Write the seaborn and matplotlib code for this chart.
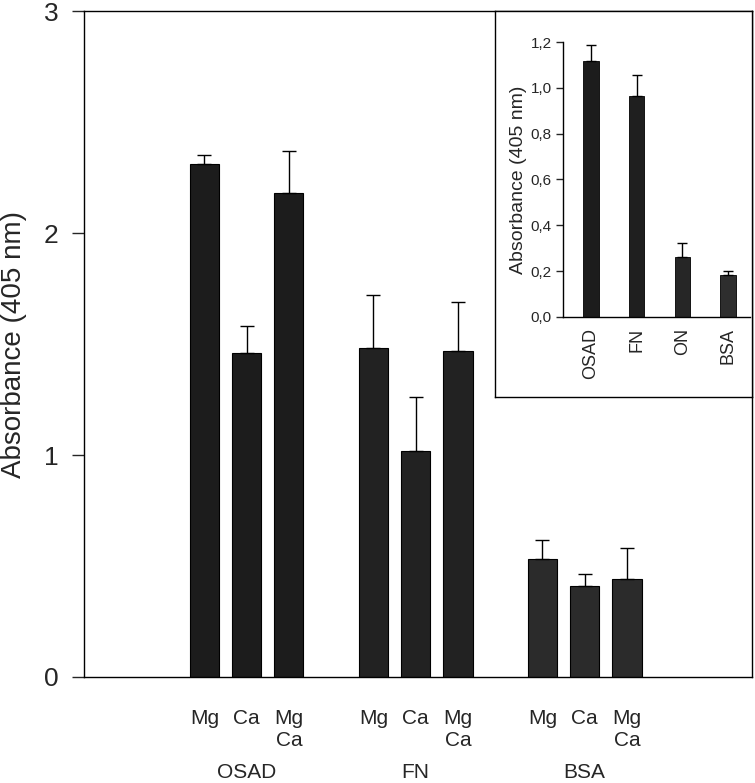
import matplotlib
matplotlib.use("Agg")
import matplotlib.pyplot as plt
import numpy as np
import pandas as pd
import seaborn as sns

# main panel data
proteins = ["OSAD", "FN", "BSA"]
cations = ["Mg", "Ca", "Mg\nCa"]
osad_vals = [2.31, 1.46, 2.18]
osad_err = [0.04, 0.12, 0.19]
fn_vals = [1.48, 1.02, 1.47]
fn_err = [0.24, 0.24, 0.22]
bsa_vals = [0.53, 0.41, 0.44]
bsa_err = [0.085, 0.055, 0.14]

# inset data
inset_labels = ["OSAD", "FN", "ON", "BSA"]
inset_vals = [1.115, 0.965, 0.26, 0.185]
inset_err = [0.07, 0.09, 0.065, 0.015]

sns.set_style("ticks")
plt.rcParams["font.family"] = ["Liberation Sans", "DejaVu Sans"]

rows = []
for p, vals, errs in zip(proteins, [osad_vals, fn_vals, bsa_vals], [osad_err, fn_err, bsa_err]):
    for c, v, e in zip(cations, vals, errs):
        rows.append({"protein": p, "cation": c, "key": p + "-" + c, "value": v, "err": e})
df = pd.DataFrame(rows)

# order with empty slots between groups
order = []
for i, p in enumerate(proteins):
    order += [p + "-" + c for c in cations]
    if i < len(proteins) - 1:
        order.append("gap%d" % i)

colors = {"OSAD": "#1c1c1c", "FN": "#222222", "BSA": "#2b2b2b"}

fig = plt.figure(figsize=(7.55, 7.83), dpi=100)
W, H = 755, 783
ax = fig.add_axes([84 / W, 1 - 677 / H, (752 - 84) / W, (677 - 11) / H])

sns.barplot(data=df, x="key", y="value", hue="protein", palette=colors, order=order,
            dodge=False, width=0.69, errorbar=None, legend=False,
            edgecolor="black", linewidth=0.8, ax=ax)
xpos = [order.index(k) for k in df["key"]]
ax.errorbar(xpos, df["value"], yerr=[np.zeros(len(df)), df["err"]], fmt="none",
            ecolor="black", elinewidth=1.0, capsize=5, capthick=1.0)

ax.set_xlim(-2.85, 12.96)
ax.set_ylim(0, 3)
ax.set_yticks([0, 1, 2, 3])
ax.set_yticklabels(["0", "1", "2", "3"], fontsize=19)
ax.tick_params(axis="y", direction="out", length=8.6, width=1.0, pad=10)
ax.set_xticks(xpos)
ax.set_xticklabels(df["cation"], fontsize=15, va="top", linespacing=1.2)
ax.tick_params(axis="x", length=0, pad=23)
ax.set_xlabel("")
ax.set_ylabel("Absorbance (405 nm)", fontsize=20, labelpad=12)
for s in ax.spines.values():
    s.set_linewidth(1.0)
    s.set_color("black")

for p in proteins:
    cx = np.mean([order.index(p + "-" + c) for c in cations])
    ax.text(cx, -0.144, p, ha="center", va="center", fontsize=15,
            transform=ax.get_xaxis_transform())

# inset frame
frame = fig.add_axes([495 / W, 1 - 397 / H, (752 - 495) / W, (397 - 11) / H])
frame.set_facecolor("white")
frame.set_xticks([])
frame.set_yticks([])
for s in frame.spines.values():
    s.set_linewidth(1.0)
    s.set_color("black")

ins_df = pd.DataFrame({"label": inset_labels, "value": inset_vals, "err": inset_err})
ins = fig.add_axes([563 / W, 1 - 317 / H, (750 - 563) / W, (317 - 42) / H])
ins.set_facecolor("none")
sns.barplot(data=ins_df, x="label", y="value", hue="label",
            palette={"OSAD": "#1c1c1c", "FN": "#1f1f1f", "ON": "#262626", "BSA": "#2e2e2e"},
            dodge=False, width=0.34, errorbar=None, legend=False,
            edgecolor="black", linewidth=0.6, ax=ins)
ins.errorbar(range(len(ins_df)), ins_df["value"], yerr=[np.zeros(len(ins_df)), ins_df["err"]],
             fmt="none", ecolor="black", elinewidth=1.0, capsize=3.5, capthick=1.0)
ins.set_xlim(-0.61, 3.48)
ins.set_ylim(0, 1.2)
ins.set_yticks([0, 0.2, 0.4, 0.6, 0.8, 1.0, 1.2])
ins.set_yticklabels(["0,0", "0,2", "0,4", "0,6", "0,8", "1,0", "1,2"], fontsize=11)
ins.tick_params(axis="y", direction="out", length=5, width=1.0, pad=3)
ins.tick_params(axis="x", length=0, pad=8)
ins.set_xticks(range(len(ins_df)))
ins.set_xticklabels(inset_labels, rotation=90, fontsize=13)
ins.set_xlabel("")
ins.set_ylabel("Absorbance (405 nm)", fontsize=14, labelpad=3)
sns.despine(ax=ins)
for s in ["left", "bottom"]:
    ins.spines[s].set_linewidth(1.0)
    ins.spines[s].set_color("black")

fig.savefig("out.png", dpi=100)
